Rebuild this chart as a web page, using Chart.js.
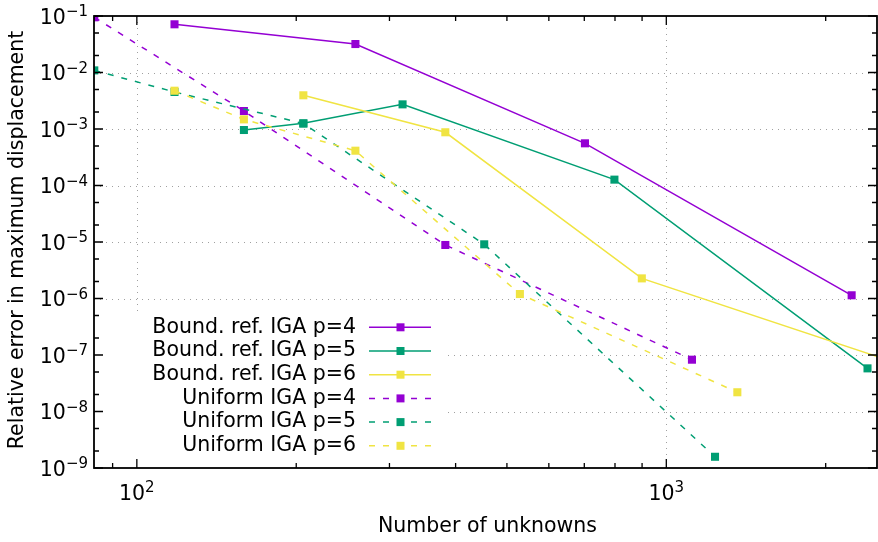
<!DOCTYPE html>
<html>
<head>
<meta charset="utf-8">
<script src="https://cdn.jsdelivr.net/npm/chart.js@4"></script>
<style>
  html, body { margin: 0; padding: 0; background: #fff; }
  canvas { display: block; }
</style>
</head>
<body>
<canvas id="chartErr" width="878" height="542"></canvas>
<script>
(() => {
    // unknowns / relative error for each refinement strategy
    const xBoundP4 = [117.8, 258.7, 702, 2239];
    const yBoundP4 = [0.0713, 0.0319, 5.58e-4, 1.14e-6];
    const xBoundP5 = [159.3, 206.3, 317.6, 798, 2399];
    const yBoundP5 = [9.6e-4, 1.26e-3, 2.73e-3, 1.27e-4, 5.8e-8];
    const xBoundP6 = [206.3, 382.5, 899, 2800];
    const yBoundP6 = [3.95e-3, 8.75e-4, 2.27e-6, 6.6e-8];
    const xUniP4 = [83.1, 159.3, 382.5, 1118];
    const yUniP4 = [0.0948, 2.08e-3, 8.85e-6, 8.26e-8];
    const xUniP5 = [83.1, 117.8, 206.3, 453, 1236];
    const yUniP5 = [0.0109, 4.52e-3, 1.25e-3, 9.1e-6, 1.58e-9];
    const xUniP6 = [117.8, 159.3, 258.7, 529, 1362];
    const yUniP6 = [4.76e-3, 1.48e-3, 4.13e-4, 1.2e-6, 2.19e-8];

    const seriesLabels = [
        "Bound. ref. IGA p=4", "Bound. ref. IGA p=5", "Bound. ref. IGA p=6",
        "Uniform IGA p=4", "Uniform IGA p=5", "Uniform IGA p=6"
    ];

    // axis ticks
    const xMajorTicks = [100, 1000];
    const xTickLabels = ["10^2", "10^3"];
    const xMinorTicks = [90, 200, 300, 400, 500, 600, 700, 800, 900, 2000];
    const yMajorTicks = [1e-9, 1e-8, 1e-7, 1e-6, 1e-5, 1e-4, 1e-3, 1e-2, 1e-1];
    const yTickLabels = ["10^\u22129", "10^\u22128", "10^\u22127", "10^\u22126", "10^\u22125",
                         "10^\u22124", "10^\u22123", "10^\u22122", "10^\u22121"];
    const yMinorTicks = [2e-9, 5e-9, 2e-8, 5e-8, 2e-7, 5e-7, 2e-6, 5e-6, 2e-5, 5e-5,
                         2e-4, 5e-4, 2e-3, 5e-3, 2e-2, 5e-2];

    const xTitle = "Number of unknowns";
    const yTitle = "Relative error in maximum displacement";

    const FONT = '"DejaVu Sans", sans-serif';
    const BASE = "20.5px " + FONT;
    const SUP = "15px " + FONT;
    const PURPLE = "#9400d3", GREEN = "#009e73", YELLOW = "#f0e442";
    const DASH = [6, 8];

    const pts = (xs, ys) => xs.map((x, i) => ({ x, y: ys[i] }));

    function makeSet(i, xs, ys, color, dashed, extra) {
        return Object.assign({
            label: seriesLabels[i],
            data: pts(xs, ys),
            showLine: true,
            borderColor: color,
            backgroundColor: color,
            borderWidth: 1.5,
            borderDash: dashed ? DASH : [],
            pointStyle: "rect",
            pointRadius: 5.7,
            pointBorderWidth: 0,
            pointBackgroundColor: color,
            order: 6 - i
        }, extra || {});
    }

    // "10^-3" -> 10 with raised exponent
    function drawPower(ctx, text, x, y, align) {
        const [base, exp] = text.split("^");
        ctx.font = BASE;
        const wb = ctx.measureText(base).width;
        ctx.font = SUP;
        const we = ctx.measureText(exp).width;
        const total = wb + we;
        const left = align === "right" ? x - total : x - total / 2;
        ctx.textAlign = "left";
        ctx.textBaseline = "alphabetic";
        ctx.font = BASE;
        ctx.fillText(base, left, y + 7.5);
        ctx.font = SUP;
        ctx.fillText(exp, left + wb, y);
    }

    const framePlugin = {
        id: "gnuFrame",
        beforeDatasetsDraw(chart) {
            const { ctx, chartArea: a, scales: { x, y } } = chart;
            ctx.save();
            ctx.strokeStyle = "#a0a0a0";
            ctx.lineWidth = 1;
            ctx.setLineDash([1, 5]);
            xMajorTicks.forEach(v => {
                const px = Math.round(x.getPixelForValue(v)) + 0.5;
                ctx.beginPath(); ctx.moveTo(px, a.top); ctx.lineTo(px, a.bottom); ctx.stroke();
            });
            yMajorTicks.forEach(v => {
                const py = Math.round(y.getPixelForValue(v)) + 0.5;
                if (py < a.top + 2 || py > a.bottom - 2) return;
                ctx.beginPath(); ctx.moveTo(a.left, py); ctx.lineTo(a.right, py); ctx.stroke();
            });
            ctx.restore();
        },
        afterDatasetsDraw(chart) {
            const { ctx, chartArea: a, scales: { x, y } } = chart;
            ctx.save();

            // key with opaque background
            ctx.fillStyle = "#fff";
            ctx.fillRect(a.left, 315, 444 - a.left, a.bottom - 315);
            chart.data.datasets.forEach((ds, i) => {
                const ry = 327.3 + i * 23.7;
                ctx.fillStyle = "#000";
                ctx.font = BASE;
                ctx.textAlign = "right";
                ctx.textBaseline = "middle";
                ctx.fillText(ds.label, 356, ry);
                ctx.strokeStyle = ds.borderColor;
                ctx.lineWidth = 1.5;
                ctx.setLineDash(ds.borderDash);
                ctx.beginPath(); ctx.moveTo(369, ry); ctx.lineTo(431, ry); ctx.stroke();
                ctx.setLineDash([]);
                ctx.fillStyle = ds.borderColor;
                ctx.fillRect(396.5, ry - 4, 8, 8);
            });

            // border
            ctx.strokeStyle = "#000";
            ctx.lineWidth = 1.8;
            ctx.strokeRect(a.left, a.top, a.right - a.left, a.bottom - a.top);

            // inward ticks, mirrored on all sides
            ctx.lineWidth = 1.3;
            const tickX = (v, len) => {
                const px = x.getPixelForValue(v);
                ctx.beginPath();
                ctx.moveTo(px, a.bottom); ctx.lineTo(px, a.bottom - len);
                ctx.moveTo(px, a.top); ctx.lineTo(px, a.top + len);
                ctx.stroke();
            };
            const tickY = (v, len) => {
                const py = y.getPixelForValue(v);
                ctx.beginPath();
                ctx.moveTo(a.left, py); ctx.lineTo(a.left + len, py);
                ctx.moveTo(a.right, py); ctx.lineTo(a.right - len, py);
                ctx.stroke();
            };
            xMajorTicks.forEach(v => tickX(v, 9));
            xMinorTicks.forEach(v => tickX(v, 5));
            yMajorTicks.forEach(v => tickY(v, 9));
            yMinorTicks.forEach(v => tickY(v, 5));

            // tick labels
            ctx.fillStyle = "#000";
            yMajorTicks.forEach((v, i) => drawPower(ctx, yTickLabels[i], 88, y.getPixelForValue(v), "right"));
            xMajorTicks.forEach((v, i) => drawPower(ctx, xTickLabels[i], x.getPixelForValue(v), 492, "center"));

            // axis titles
            ctx.font = BASE;
            ctx.textAlign = "center";
            ctx.textBaseline = "middle";
            ctx.fillText(xTitle, (a.left + a.right) / 2 + 2, 527);
            ctx.translate(18, (a.top + a.bottom) / 2 - 2);
            ctx.rotate(-Math.PI / 2);
            ctx.fillText(yTitle, 0, 0);
            ctx.restore();
        }
    };

    new Chart(document.getElementById("chartErr"), {
        type: "scatter",
        data: {
            datasets: [
                makeSet(0, xBoundP4, yBoundP4, PURPLE, false),
                makeSet(1, xBoundP5, yBoundP5, GREEN, false),
                makeSet(2, xBoundP6, yBoundP6, YELLOW, false, { clip: { left: 10, top: 10, right: 0, bottom: 10 } }),
                makeSet(3, xUniP4, yUniP4, PURPLE, true),
                makeSet(4, xUniP5, yUniP5, GREEN, true),
                makeSet(5, xUniP6, yUniP6, YELLOW, true)
            ]
        },
        options: {
            responsive: false,
            animation: false,
            devicePixelRatio: 1,
            events: [],
            layout: { autoPadding: false, padding: { left: 94, right: 1, top: 16, bottom: 74 } },
            scales: {
                x: { type: "logarithmic", min: 83, max: 2500, display: false },
                y: { type: "logarithmic", min: 1e-9, max: 1e-1, display: false }
            },
            plugins: {
                legend: { display: false },
                tooltip: { enabled: false }
            }
        },
        plugins: [framePlugin]
    });
})();
</script>
</body>
</html>
